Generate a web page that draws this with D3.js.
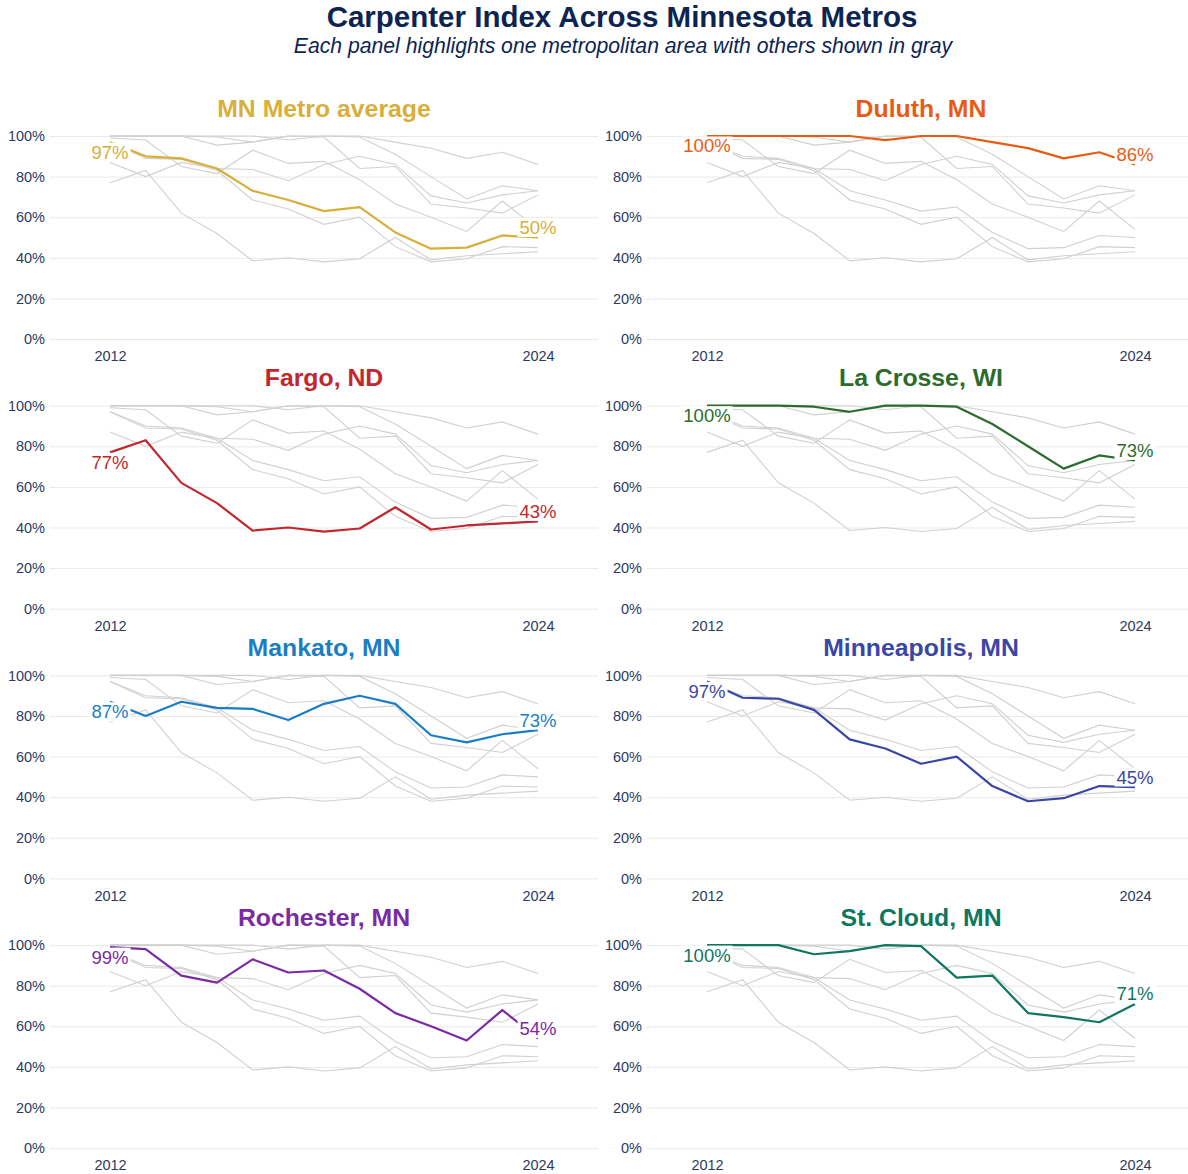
<!DOCTYPE html>
<html>
<head>
<meta charset="utf-8">
<script src="https://cdn.jsdelivr.net/npm/d3@7"></script>
<style>
  body { margin: 0; background: #fff; }
  svg { display: block; font-family: "Liberation Sans", Arial, sans-serif; }
  .axis text { fill: #2b3b60; font-size: 14.5px; }
  .axis .domain { display: none; }
  .grid line { stroke: #e9e9e9; stroke-width: 1; }
</style>
</head>
<body>
<div id="svg-container"></div>
<script>
// data
const years = [2012, 2013, 2014, 2015, 2016, 2017, 2018, 2019, 2020, 2021, 2022, 2023, 2024];
const metros = [
  "MN Metro average",
  "Duluth, MN",
  "Fargo, ND",
  "La Crosse, WI",
  "Mankato, MN",
  "Minneapolis, MN",
  "Rochester, MN",
  "St. Cloud, MN",
];
const colors = ["#d7af3a", "#e85c12", "#c1272d", "#2b6b2c", "#1b7ec4", "#3a46a6", "#7a2aa5", "#0f7660"];

const avgValues = [97, 90, 89, 84, 73, 68.5, 63, 65, 52.5, 44.5, 45, 51, 50];
const duluthValues = [100, 100, 100, 100, 100, 98, 100, 100, 97, 94, 89, 92, 86];
const fargoValues = [77, 83, 62, 52, 38.5, 40, 38, 39.5, 50, 39, 41, 42, 43];
const laCrosseValues = [100, 100, 100, 99.5, 97, 100, 100, 99.5, 91, 80, 69, 75.5, 73];
const mankatoValues = [87, 80, 87, 84, 83.5, 78, 86, 90, 86, 70.5, 67, 71, 73];
const minneapolisValues = [97, 89, 88.5, 83, 68.5, 64, 56.5, 60, 45.5, 38, 39.5, 45.5, 45];
const rochesterValues = [99, 98, 85, 81.5, 93, 86.5, 87.5, 78.5, 66.5, 60, 53, 68, 54];
const stCloudValues = [100, 100, 100, 95.5, 97, 100, 99.5, 84, 85, 66.5, 64.5, 62, 71];

const yTicks = [0, 20, 40, 60, 80, 100];
const xTicks = [2012, 2024];

const seriesValues = [
  avgValues, duluthValues, fargoValues, laCrosseValues,
  mankatoValues, minneapolisValues, rochesterValues, stCloudValues,
];
const series = metros.map((name, i) => ({
  name,
  color: colors[i],
  values: years.map((year, j) => ({ year, value: seriesValues[i][j] })),
}));

////////////////////////////////////////////////////////////////////
// svg
const width = 1188;
const height = 1174;
const svg = d3.select("#svg-container").append("svg")
  .attr("width", width)
  .attr("height", height);

// titles
svg.append("text")
  .attr("x", 622).attr("y", 27)
  .attr("text-anchor", "middle")
  .attr("font-size", 29.5).attr("font-weight", "bold")
  .attr("fill", "#0c2452")
  .text("Carpenter Index Across Minnesota Metros");
svg.append("text")
  .attr("x", 623).attr("y", 53)
  .attr("text-anchor", "middle")
  .attr("font-size", 21.2).attr("font-style", "italic")
  .attr("fill", "#0c2452")
  .text("Each panel highlights one metropolitan area with others shown in gray");

// panel layout
const colX = [50, 647];
const plotW = 548;
const plotH = 203;
const rowTop = (r) => 136 + r * 269.7;
const pad = 60; // space between panel edge and first/last year

series.forEach((s, i) => {
  const col = i % 2;
  const row = Math.floor(i / 2);
  const x0 = colX[col];
  const top = rowTop(row);

  const x = d3.scaleLinear().domain([2012, 2024]).range([x0 + pad, x0 + plotW - pad]);
  const y = d3.scaleLinear().domain([0, 100]).range([top + plotH, top]);

  const g = svg.append("g");

  // grid + y labels
  g.append("g")
    .attr("class", "axis grid")
    .attr("transform", `translate(${x0},0)`)
    .call(d3.axisLeft(y).tickValues(yTicks).tickSize(-plotW).tickPadding(5)
      .tickFormat((d) => d + "%"));

  // x labels
  g.append("g")
    .attr("class", "axis")
    .attr("transform", `translate(0,${top + plotH})`)
    .call(d3.axisBottom(x).tickValues(xTicks).tickSize(0).tickPadding(12)
      .tickFormat(d3.format("d")))
    .selectAll(".tick line").remove();

  // panel title
  g.append("text")
    .attr("x", x0 + plotW / 2)
    .attr("y", top - 28)
    .attr("dy", "0.35em")
    .attr("text-anchor", "middle")
    .attr("font-size", 24.8).attr("font-weight", "bold")
    .attr("fill", s.color)
    .text(s.name);

  const line = d3.line().x((d) => x(d.year)).y((d) => y(d.value));

  // others in gray
  g.selectAll(".other")
    .data(series.filter((o) => o !== s))
    .enter()
    .append("path")
    .attr("d", (d) => line(d.values))
    .attr("fill", "none")
    .attr("stroke", "#d0d0d0")
    .attr("stroke-width", 1.1);

  // highlighted metro
  g.append("path")
    .attr("d", line(s.values))
    .attr("fill", "none")
    .attr("stroke", s.color)
    .attr("stroke-width", 2.2)
    .attr("stroke-linejoin", "round");

  // first / last value labels (white box behind)
  const first = s.values[0];
  const last = s.values[s.values.length - 1];
  [
    { d: first, dy: 10 },
    { d: last, dy: -10 },
  ].forEach((l) => {
    const lg = g.append("g");
    const t = lg.append("text")
      .attr("x", x(l.d.year))
      .attr("y", y(l.d.value) + l.dy)
      .attr("dy", "0.35em")
      .attr("text-anchor", "middle")
      .attr("font-size", 18.5)
      .attr("fill", s.color)
      .text(Math.round(l.d.value) + "%");
    const bb = t.node().getBBox();
    lg.insert("rect", "text")
      .attr("x", bb.x - 2)
      .attr("y", bb.y + 1)
      .attr("width", bb.width + 4)
      .attr("height", bb.height - 2)
      .attr("fill", "#fff");
  });
});
</script>
</body>
</html>
